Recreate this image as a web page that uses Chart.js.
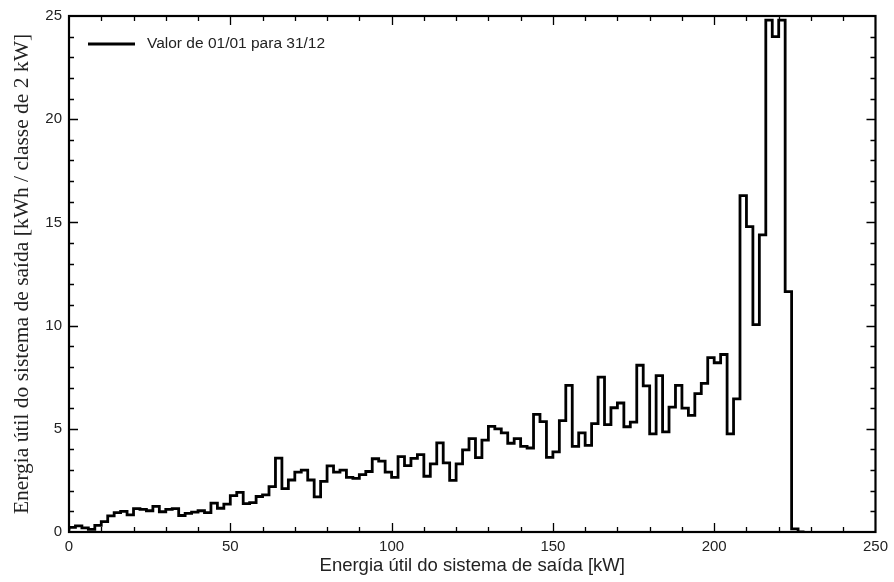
<!DOCTYPE html>
<html>
<head>
<meta charset="utf-8">
<script src="https://cdn.jsdelivr.net/npm/chart.js@4.4.1/dist/chart.umd.min.js"></script>
<style>
    html, body { margin: 0; padding: 0; background: #fff; }
    #wrap { width: 894px; height: 582px; }
</style>
</head>
<body>
<div id="wrap"><canvas id="histChart" width="894" height="582"></canvas></div>
<script>
// Classes de 2 kW, a partir de 0 kW
const binWidth = 2;
// Energia por classe [kWh / classe de 2 kW]
const energyValues = [
    0.06, 0.22, 0.30, 0.20, 0.13, 0.32, 0.50, 0.78, 0.94, 1.00,
    0.83, 1.13, 1.10, 1.03, 1.24, 0.98, 1.10, 1.13, 0.80, 0.90,
    0.96, 1.03, 0.94, 1.40, 1.15, 1.35, 1.76, 1.92, 1.37, 1.42,
    1.72, 1.80, 2.20, 3.58, 2.10, 2.52, 2.90, 3.00, 2.52, 1.70,
    2.45, 3.20, 2.90, 3.00, 2.65, 2.60, 2.78, 2.93, 3.55, 3.43,
    2.90, 2.65, 3.65, 3.22, 3.57, 3.75, 2.70, 3.30, 4.32, 3.35,
    2.50, 3.30, 3.98, 4.52, 3.60, 4.45, 5.12, 5.00, 4.80, 4.30,
    4.52, 4.15, 4.07, 5.70, 5.35, 3.62, 3.88, 5.40, 7.10, 4.15,
    4.80, 4.20, 5.25, 7.50, 5.20, 6.02, 6.25, 5.10, 5.32, 8.08,
    7.08, 4.75, 7.58, 4.85, 6.05, 7.10, 6.00, 5.65, 6.70, 7.20,
    8.45, 8.20, 8.60, 4.75, 6.45, 16.30, 14.80, 10.05, 14.40, 24.80,
    24.00, 24.80, 11.65, 0.15, 0
];
const xTickLabels = [0, 50, 100, 150, 200, 250];
const yTickLabels = [0, 5, 10, 15, 20, 25];
const seriesLabel = 'Valor de 01/01 para 31/12';

const points = energyValues.map((v, i) => ({ x: i * binWidth, y: v }));

// moldura com marcas internas + legenda dentro do gráfico
const frameTicks = {
    id: 'frameTicks',
    afterDatasetsDraw(chart) {
        const { ctx, chartArea: a, scales: { x, y } } = chart;
        ctx.save();
        ctx.strokeStyle = '#000';
        ctx.lineWidth = 1.3;
        ctx.beginPath();
        for (let v = 10; v < 250; v += 10) {
            const px = Math.round(x.getPixelForValue(v)) + 0.5;
            const len = v % 50 === 0 ? 9 : 5;
            ctx.moveTo(px, a.bottom); ctx.lineTo(px, a.bottom - len);
            ctx.moveTo(px, a.top); ctx.lineTo(px, a.top + len);
        }
        for (let v = 1; v < 25; v++) {
            const py = Math.round(y.getPixelForValue(v)) + 0.5;
            const len = v % 5 === 0 ? 9 : 5;
            ctx.moveTo(a.left, py); ctx.lineTo(a.left + len, py);
            ctx.moveTo(a.right, py); ctx.lineTo(a.right - len, py);
        }
        ctx.stroke();

        ctx.lineWidth = 2.2;
        ctx.strokeRect(a.left, a.top, a.right - a.left, a.bottom - a.top);

        // legenda
        ctx.lineWidth = 2.8;
        ctx.beginPath();
        ctx.moveTo(88, 44); ctx.lineTo(135, 44);
        ctx.stroke();
        ctx.fillStyle = '#222';
        ctx.font = '15.5px "Liberation Sans", Arial, sans-serif';
        ctx.textBaseline = 'middle';
        ctx.fillText(seriesLabel, 147, 44);
        ctx.restore();
    }
};

document.addEventListener('DOMContentLoaded', function() {
    const ctx = document.getElementById('histChart').getContext('2d');

    new Chart(ctx, {
        type: 'line',
        data: {
            datasets: [{
                label: seriesLabel,
                data: points,
                stepped: 'after',
                borderColor: '#000',
                borderWidth: 2.8,
                pointRadius: 0,
                fill: false
            }]
        },
        options: {
            responsive: false,
            animation: false,
            layout: { padding: { top: 16, right: 16, left: 0, bottom: 0 } },
            plugins: {
                legend: { display: false },
                tooltip: { enabled: false }
            },
            scales: {
                x: {
                    type: 'linear',
                    min: 0,
                    max: 250,
                    afterFit: (scale) => { scale.height = 50; },
                    afterBuildTicks: (scale) => { scale.ticks = xTickLabels.map(v => ({ value: v })); },
                    grid: { display: false, drawTicks: false },
                    border: { display: false },
                    ticks: {
                        padding: 6,
                        color: '#222',
                        maxRotation: 0,
                        font: { family: '"Liberation Sans", Arial, sans-serif', size: 15 }
                    },
                    title: {
                        display: true,
                        text: 'Energia útil do sistema de saída [kW]',
                        color: '#222',
                        padding: { top: 0, bottom: 5 },
                        font: { family: '"Liberation Sans", Arial, sans-serif', size: 18.5 }
                    }
                },
                y: {
                    min: 0,
                    max: 25,
                    afterFit: (scale) => { scale.width = 69; },
                    afterBuildTicks: (scale) => { scale.ticks = yTickLabels.map(v => ({ value: v })); },
                    grid: { display: false, drawTicks: false },
                    border: { display: false },
                    ticks: {
                        padding: 7,
                        color: '#222',
                        font: { family: '"Liberation Sans", Arial, sans-serif', size: 15 }
                    },
                    title: {
                        display: true,
                        text: 'Energia útil do sistema de saída [kWh / classe de 2 kW]',
                        color: '#222',
                        padding: { top: 9, bottom: 0 },
                        font: { family: '"Liberation Serif", "Times New Roman", serif', size: 21.5 }
                    }
                }
            }
        },
        plugins: [frameTicks]
    });
});
</script>
</body>
</html>
